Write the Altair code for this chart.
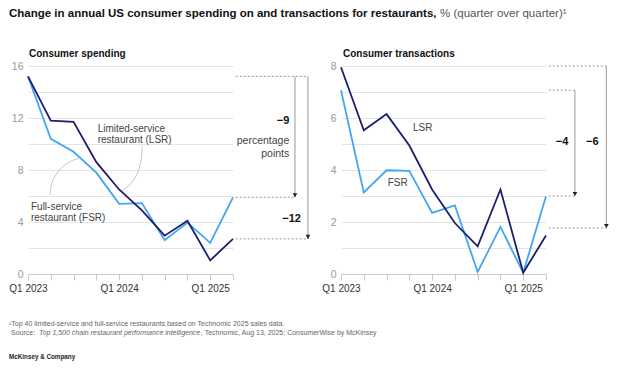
import altair as alt
import pandas as pd

# ---------------- data ----------------
quarters = ["Q1 2023", "Q2 2023", "Q3 2023", "Q4 2023", "Q1 2024",
            "Q2 2024", "Q3 2024", "Q4 2024", "Q1 2025", "Q2 2025"]
spend_lsr = [15.2, 11.8, 11.7, 8.6, 6.5, 4.9, 2.95, 4.1, 1.05, 2.7]
spend_fsr = [15.2, 10.4, 9.4, 7.8, 5.4, 5.45, 2.6, 3.95, 2.4, 5.9]
trans_lsr = [7.95, 5.53, 6.15, 4.94, 3.25, 1.96, 1.06, 3.25, 0.05, 1.48]
trans_fsr = [7.07, 3.14, 3.99, 3.97, 2.35, 2.64, 0.08, 1.81, 0.05, 2.99]

tick_label_quarters = ["Q1 2023", "Q1 2024", "Q1 2025"]

# change annotations (label, start value, end value)
spend_changes = [("−9", 15.2, 5.9), ("−12", 15.2, 2.7)]
trans_changes = [("−4", 7.07, 3.0), ("−6", 8.0, 1.77)]

title_bold = "Change in annual US consumer spending on and transactions for restaurants,"
title_light = "% (quarter over quarter)¹"
panel_titles = ["Consumer spending", "Consumer transactions"]
foot1 = "¹Top 40 limited-service and full-service restaurants based on Technomic 2025 sales data."
foot2_a = "Source:"
foot2_b = "Top 1,500 chain restaurant performance intelligence"
foot2_c = ", Technomic, Aug 13, 2025; ConsumerWise by McKinsey"
brand = "McKinsey & Company"

# leader curves (quarter index, value) on the spending panel
lsr_leader_x = [5.01, 5.0, 4.89, 4.68, 4.37, 4.14]
lsr_leader_y = [9.85, 9.0, 8.05, 7.24, 6.70, 6.39]
fsr_leader_x = [0.97, 1.0, 1.17, 1.47, 1.86, 2.26]
fsr_leader_y = [6.1, 6.85, 7.54, 8.24, 8.70, 8.91]

# ---------------- style ----------------
FONT = "Liberation Sans"
DARK = "#1c1f6f"
LIGHT = "#43a6f2"
GRID = "#e4e4e4"
W, H = 205, 208
XMAX = len(quarters) - 1

label_expr = " : ".join(
    f"datum.value == {quarters.index(q)} ? '{q}'" for q in tick_label_quarters
) + " : ''"


def xenc(field):
    return alt.X(f"{field}:Q",
                 scale=alt.Scale(domain=[0, XMAX], nice=False, zero=False),
                 axis=alt.Axis(values=list(range(len(quarters))), labelExpr=label_expr,
                               grid=False, domain=True, domainColor="#c8c8c8",
                               ticks=True, tickColor="#c8c8c8", tickSize=6,
                               labelPadding=3, labelFontSize=10, labelColor="#333",
                               labelFlush=False, labelOverlap=False, title=None))


def yenc(field, ymax, step, lab_step):
    vals = [round(v * step, 3) for v in range(int(ymax / step) + 1)]
    return alt.Y(f"{field}:Q",
                 scale=alt.Scale(domain=[0, ymax], nice=False),
                 axis=alt.Axis(values=vals,
                               labelExpr=f"datum.value % {lab_step} == 0 ? datum.label : ''",
                               grid=True, gridColor=GRID, domain=False, ticks=False,
                               labelColor="#9a9a9a", labelFontSize=10.5, labelPadding=5,
                               title=None))


def panel(lsr, fsr, ymax, step, lab_step, changes, labels, leaders, px_texts):
    Y = lambda f: yenc(f, ymax, step, lab_step)
    df = pd.DataFrame({"i": list(range(len(quarters))), "q": quarters,
                       "lsr": lsr, "fsr": fsr})
    layers = []
    layers.append(alt.Chart(df).mark_line(color=LIGHT, strokeWidth=1.8)
                  .encode(x=xenc("i"), y=Y("fsr")))
    layers.append(alt.Chart(df).mark_line(color=DARK, strokeWidth=1.8)
                  .encode(x=xenc("i"), y=Y("lsr")))

    # leader curves
    for lx, ly in leaders:
        ldf = pd.DataFrame({"i": lx, "v": ly, "o": list(range(len(lx)))})
        layers.append(alt.Chart(ldf).mark_line(color="#c4c4c4", strokeWidth=1,
                                               interpolate="basis")
                      .encode(x=xenc("i"), y=Y("v"), order="o:Q"))

    # series labels
    ldf = pd.DataFrame(labels, columns=["i", "v", "t"])
    layers.append(alt.Chart(ldf).mark_text(align="left", baseline="middle",
                                           fontSize=10, color="#444",
                                           lineBreak="\n", lineHeight=10.5)
                  .encode(x=xenc("i"), y=Y("v"), text="t:N"))

    # change annotations
    xs_start = XMAX + 0.12
    hrows, vrows, trows = [], [], []
    for (lab, v0, v1), ax, tx, ty in zip(changes["items"], changes["arrow_x"],
                                          changes["text_x"], changes["text_y"]):
        hrows.append({"i": xs_start, "i2": ax, "v": v0})
        hrows.append({"i": xs_start, "i2": ax, "v": v1})
        vrows.append({"i": ax, "v": v0, "v2": v1})
        trows.append((tx, ty, lab))
    # keep the longest dotted line for a shared start value
    hdf = pd.DataFrame(hrows).sort_values("i2").drop_duplicates(subset=["v"], keep="last")
    vdf = pd.DataFrame(vrows)
    layers.append(alt.Chart(hdf).mark_rule(color="#9a9a9a", strokeDash=[2, 2],
                                           strokeWidth=1)
                  .encode(x=xenc("i"), x2="i2:Q", y=Y("v")))
    layers.append(alt.Chart(vdf).mark_rule(color="#a8a8a8", strokeWidth=1.2)
                  .encode(x=xenc("i"), y=Y("v"), y2="v2:Q"))
    layers.append(alt.Chart(vdf).mark_point(shape="triangle-down", filled=True,
                                            size=22, color="#222", opacity=1,
                                            yOffset=-2)
                  .encode(x=xenc("i"), y=Y("v2")))
    tdf = pd.DataFrame(trows, columns=["i", "v", "t"])
    layers.append(alt.Chart(tdf).mark_text(align="right", baseline="middle",
                                           fontSize=11, fontWeight="bold",
                                           color="#111")
                  .encode(x=xenc("i"), y=Y("v"), text="t:N"))
    if changes.get("extra"):
        edf = pd.DataFrame(changes["extra"], columns=["i", "v", "t"])
        layers.append(alt.Chart(edf).mark_text(align="right", baseline="middle",
                                               fontSize=10.5, color="#444",
                                               lineBreak="\n", lineHeight=13)
                      .encode(x=xenc("i"), y=Y("v"), text="t:N"))

    # free texts positioned in pixels relative to the plot area
    for (px, py, txt, style) in px_texts:
        tdf2 = pd.DataFrame({"t": [txt]})
        layers.append(alt.Chart(tdf2).mark_text(align="left", baseline="middle",
                                                **style)
                      .encode(x=alt.value(px), y=alt.value(py), text="t:N"))

    return alt.layer(*layers).properties(width=W, height=H)


FS_T = 11.5
TITLE_BOLD_EM = 37.175
FS_F = 7
SRC_EM = 3.724 + 0.278
ITAL_EM = 23.122
X0 = -19

left_texts = [
    (X0, -52, title_bold, dict(fontSize=FS_T, fontWeight="bold", color="#111")),
    (X0 + TITLE_BOLD_EM * FS_T + 3.5, -52, title_light,
     dict(fontSize=FS_T, color="#555")),
    (1, -12, panel_titles[0], dict(fontSize=10, fontWeight="bold", color="#111")),
    (X0, 258, foot1, dict(fontSize=FS_F, color="#666")),
    (X0 + 2, 267, foot2_a, dict(fontSize=FS_F, color="#666")),
    (X0 + 2 + SRC_EM * FS_F, 267, foot2_b,
     dict(fontSize=FS_F, color="#666", fontStyle="italic")),
    (X0 + 2 + (SRC_EM + ITAL_EM) * FS_F, 267, foot2_c,
     dict(fontSize=FS_F, color="#666")),
    (X0, 291, brand, dict(fontSize=6.3, fontWeight="bold", color="#222")),
]
right_texts = [
    (2, -12, panel_titles[1], dict(fontSize=10, fontWeight="bold", color="#111")),
]

left = panel(
    spend_lsr, spend_fsr, 16, 2, 4,
    {"items": spend_changes, "arrow_x": [11.72, 12.29],
     "text_x": [11.47, 11.98], "text_y": [11.79, 4.2],
     "extra": [(11.47, 10.21, "percentage\npoints")]},
    [(3.06, 11.145, "Limited-service\nrestaurant (LSR)"),
     (0.13, 5.135, "Full-service\nrestaurant (FSR)")],
    [(lsr_leader_x, lsr_leader_y), (fsr_leader_x, fsr_leader_y)],
    left_texts,
)
right = panel(
    trans_lsr, trans_fsr, 8, 1, 2,
    {"items": trans_changes, "arrow_x": [10.27, 11.65],
     "text_x": [9.98, 11.31], "text_y": [5.07, 5.07]},
    [(3.16, 5.61, "LSR"), (2.05, 3.50, "FSR")],
    [],
    right_texts,
)

chart = (alt.hconcat(left, right, spacing=108, bounds="flush")
         .properties(padding=0, background="white")
         .configure(font=FONT)
         .configure_view(stroke=None))

chart.save("out.html", embed_options={"renderer": "svg", "actions": False})
